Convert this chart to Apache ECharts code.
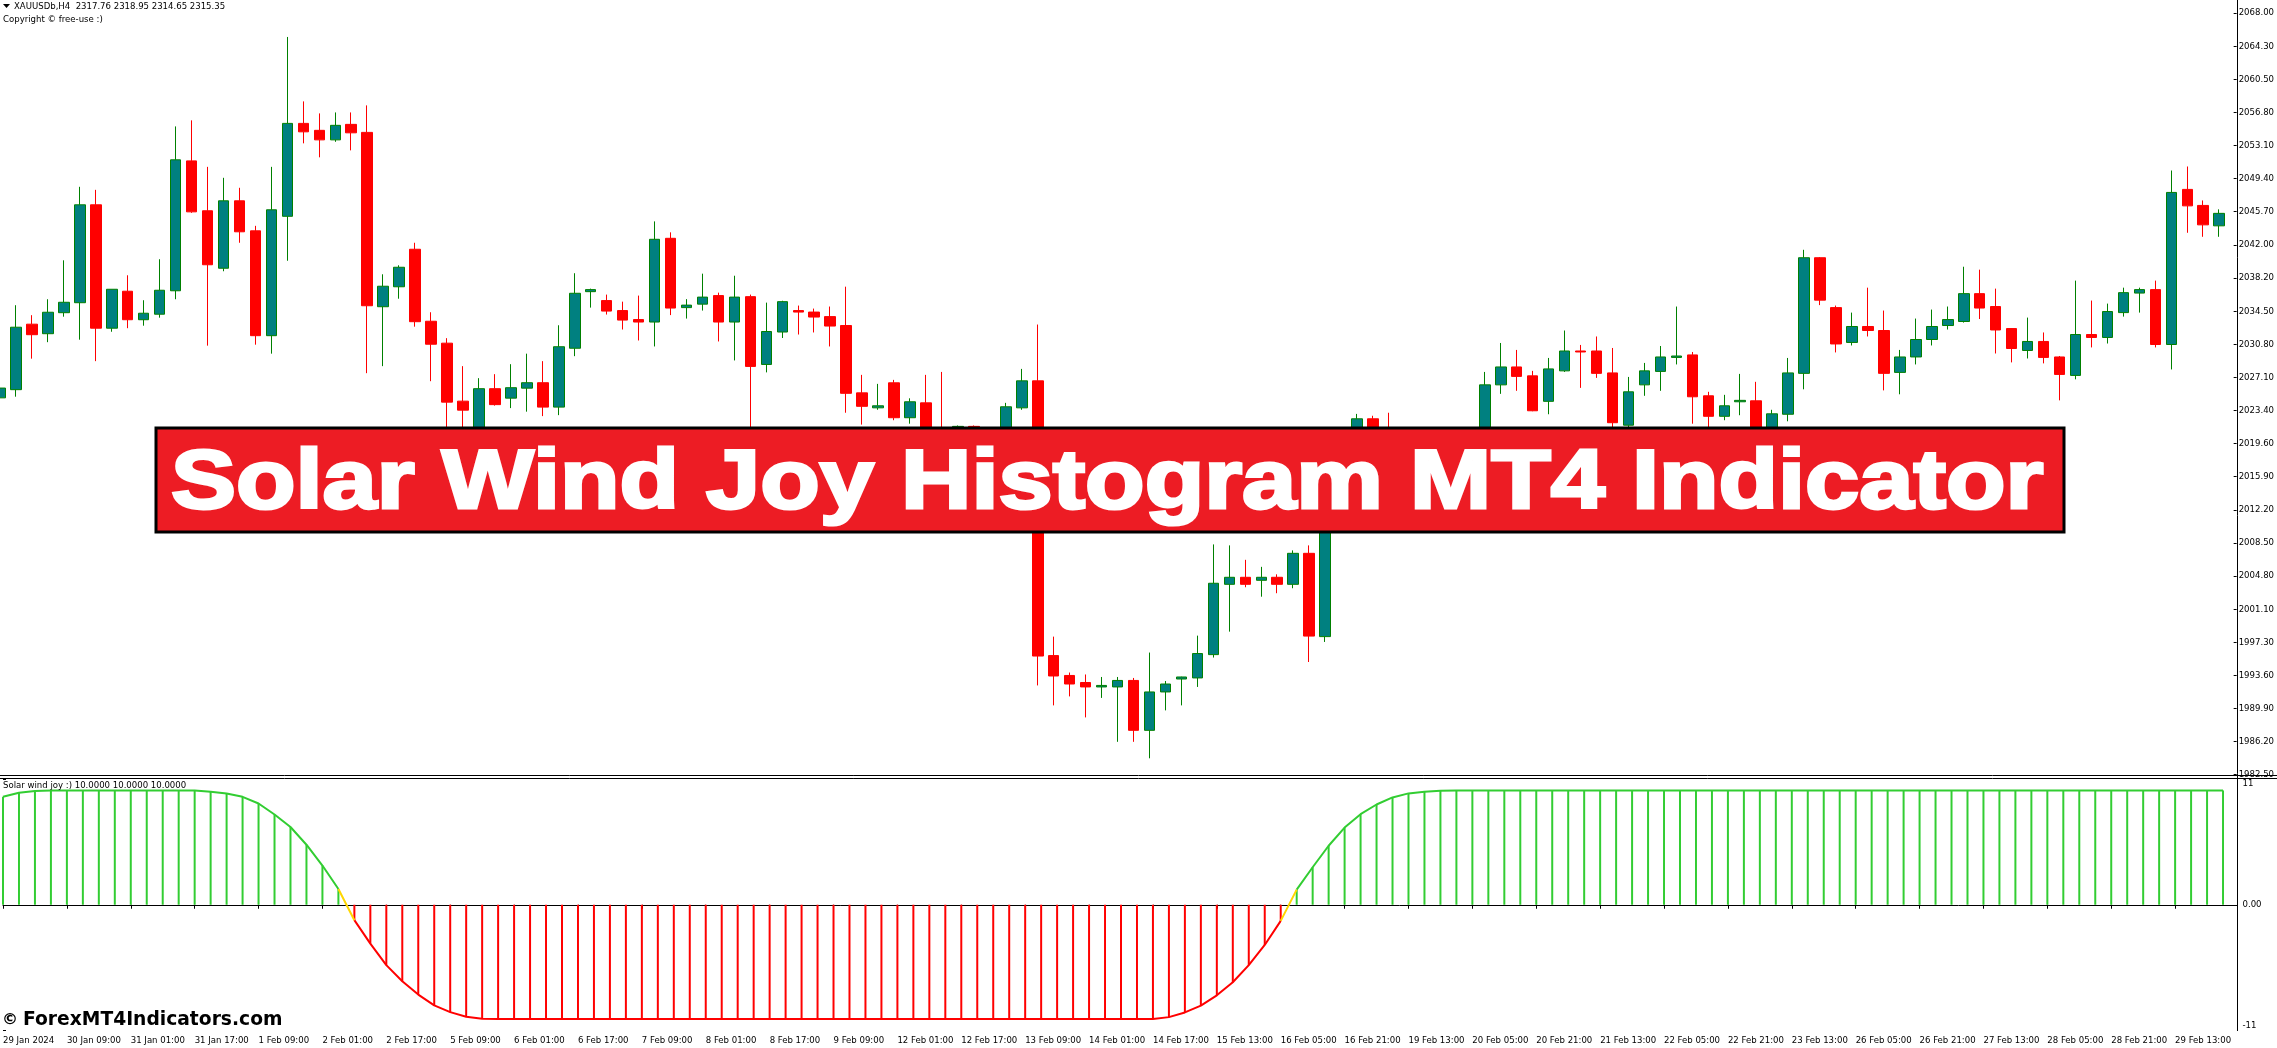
<!DOCTYPE html>
<html>
<head>
<meta charset="utf-8">
<script src="https://cdn.jsdelivr.net/npm/echarts@6/dist/echarts.min.js"></script>
<style>html,body{margin:0;padding:0;background:#fff;overflow:hidden}#c{width:2277px;height:1048px}</style>
</head>
<body>
<div id="c"></div>
<script>
// ---- data ----
const timeLabels = ['29 Jan 2024','30 Jan 09:00','31 Jan 01:00','31 Jan 17:00','1 Feb 09:00','2 Feb 01:00','2 Feb 17:00','5 Feb 09:00','6 Feb 01:00','6 Feb 17:00','7 Feb 09:00','8 Feb 01:00','8 Feb 17:00','9 Feb 09:00','12 Feb 01:00','12 Feb 17:00','13 Feb 09:00','14 Feb 01:00','14 Feb 17:00','15 Feb 13:00','16 Feb 05:00','16 Feb 21:00','19 Feb 13:00','20 Feb 05:00','20 Feb 21:00','21 Feb 13:00','22 Feb 05:00','22 Feb 21:00','23 Feb 13:00','26 Feb 05:00','26 Feb 21:00','27 Feb 13:00','28 Feb 05:00','28 Feb 21:00','29 Feb 13:00'];

const priceLabels = ['1982.50','1986.20','1989.90','1993.60','1997.30','2001.10','2004.80','2008.50','2012.20','2015.90','2019.60','2023.40','2027.10','2030.80','2034.50','2038.20','2042.00','2045.70','2049.40','2053.10','2056.80','2060.50','2064.30','2068.00'];

const indicatorLabels = ['-11','0.00','11'];

const opens = [
 2024.8, 2025.72, 2033.07, 2032.0, 2034.36, 2035.48, 2046.47, 2032.62, 2036.77, 2033.57,
 2034.19, 2036.82, 2051.4, 2045.8, 2039.35, 2046.92, 2043.55, 2031.78, 2045.18, 2055.61,
 2054.83, 2053.76, 2055.5, 2054.6, 2035.03, 2037.27, 2041.48, 2033.4, 2030.94, 2024.43,
 2020.8, 2025.83, 2024.77, 2025.89, 2026.5, 2023.76, 2030.37, 2036.72, 2035.72, 2034.6,
 2033.59, 2033.31, 2042.71, 2034.93, 2035.32, 2036.28, 2033.31, 2036.16, 2028.55, 2032.19,
 2034.6, 2034.43, 2033.92, 2032.92, 2025.36, 2023.68, 2026.49, 2022.57, 2024.24, 2021.0,
 2021.4, 2021.6, 2021.0, 2020.5, 2023.68, 2026.71, 1995.87, 1993.64, 1992.85, 1992.35,
 1992.35, 1993.08, 1987.48, 1991.79, 1993.24, 1993.36, 1995.98, 2003.87, 2004.66, 2004.32,
 2004.66, 2003.87, 2007.35, 1998.0, 2019.5, 2017.8, 2022.45, 2020.0, 2018.5, 2019.8,
 2018.9, 2020.3, 2020.9, 2020.1, 2026.26, 2028.27, 2027.27, 2024.41, 2027.83, 2030.06,
 2030.06, 2027.6, 2021.73, 2026.26, 2027.77, 2029.34, 2029.62, 2025.03, 2022.73, 2024.36,
 2024.47, 2021.0, 2022.96, 2027.55, 2040.53, 2034.93, 2031.02, 2032.81, 2032.36, 2027.66,
 2029.39, 2031.35, 2032.92, 2033.37, 2036.5, 2035.05, 2032.58, 2030.12, 2031.13, 2029.39,
 2027.32, 2031.91, 2031.58, 2034.37, 2036.56, 2036.95, 2030.79, 2048.2, 2046.4, 2044.11
];
const closes = [
 2025.9, 2032.73, 2031.89, 2034.41, 2035.53, 2046.47, 2032.62, 2036.99, 2033.57, 2034.30,
 2036.88, 2051.52, 2045.68, 2039.74, 2046.92, 2043.44, 2031.78, 2045.91, 2055.61, 2054.66,
 2053.76, 2055.39, 2054.55, 2035.14, 2037.33, 2039.46, 2033.35, 2030.82, 2024.32, 2023.42,
 2025.83, 2024.04, 2025.94, 2026.5, 2023.76, 2030.54, 2036.54, 2036.95, 2034.54, 2033.53,
 2033.31, 2042.6, 2034.88, 2035.21, 2036.11, 2033.31, 2036.11, 2028.33, 2032.25, 2035.6,
 2034.43, 2033.87, 2032.86, 2025.31, 2023.85, 2023.91, 2022.57, 2024.36, 2021.0, 2019.8,
 2021.6, 2021.4, 2020.2, 2023.8, 2026.71, 1995.82, 1993.58, 1992.68, 1992.35, 1992.52,
 1993.08, 1987.48, 1991.79, 1992.68, 1993.47, 1996.1, 2003.99, 2004.66, 2003.87, 2004.66,
 2003.87, 2007.35, 1998.06, 2019.5, 2017.8, 2022.45, 2020.0, 2018.5, 2019.8, 2018.9,
 2020.3, 2020.9, 2020.1, 2026.26, 2028.27, 2027.21, 2023.35, 2028.05, 2030.06, 2029.95,
 2027.55, 2022.01, 2025.48, 2027.83, 2029.39, 2029.5, 2024.92, 2022.73, 2023.91, 2024.52,
 2021.0, 2023.01, 2027.6, 2040.53, 2035.77, 2030.85, 2032.81, 2032.36, 2027.55, 2029.39,
 2031.35, 2032.81, 2033.59, 2036.5, 2034.88, 2032.42, 2030.34, 2031.13, 2029.34, 2027.43,
 2031.91, 2031.58, 2034.49, 2036.61, 2036.95, 2030.79, 2047.86, 2046.35, 2044.22, 2045.51
];
const lows = [
 2024.3, 2024.93, 2029.2, 2031.05, 2033.91, 2031.33, 2028.92, 2032.22, 2032.62, 2032.9,
 2033.8, 2035.87, 2045.57, 2030.66, 2039.01, 2042.21, 2030.77, 2029.76, 2040.19, 2053.37,
 2051.8, 2053.54, 2052.58, 2027.57, 2028.36, 2035.93, 2032.79, 2026.67, 2020.5, 2020.0,
 2019.9, 2023.93, 2023.65, 2023.25, 2022.75, 2022.86, 2029.48, 2034.93, 2034.15, 2032.47,
 2031.24, 2030.57, 2034.09, 2033.7, 2034.6, 2031.13, 2029.0, 2019.5, 2027.66, 2031.52,
 2031.91, 2032.14, 2030.57, 2023.13, 2021.8, 2023.46, 2022.29, 2021.9, 2020.2, 2019.0,
 2019.5, 2020.0, 2019.0, 2019.8, 2023.46, 1992.52, 1990.28, 1991.29, 1988.93, 1991.12,
 1986.19, 1986.19, 1984.34, 1989.72, 1990.28, 1992.35, 1995.65, 1998.56, 2003.54, 2002.48,
 2002.87, 2003.43, 1995.15, 1997.4, 2016.5, 2017.2, 2019.2, 2017.6, 2017.9, 2018.0,
 2018.4, 2019.6, 2019.4, 2019.8, 2025.25, 2025.59, 2023.3, 2022.96, 2027.71, 2025.92,
 2027.04, 2020.8, 2020.9, 2025.03, 2025.59, 2028.55, 2021.9, 2021.0, 2022.29, 2022.85,
 2020.2, 2020.4, 2022.17, 2025.76, 2035.21, 2029.9, 2030.68, 2031.69, 2025.64, 2025.2,
 2028.55, 2030.68, 2032.47, 2033.25, 2033.65, 2029.78, 2028.78, 2029.22, 2028.67, 2024.52,
 2026.88, 2030.46, 2030.9, 2033.92, 2034.37, 2030.46, 2027.99, 2043.33, 2042.88, 2042.88
];
const highs = [
 2026.5, 2035.2, 2034.08, 2035.87, 2040.24, 2048.49, 2048.15, 2036.99, 2038.56, 2035.76,
 2040.36, 2055.27, 2055.95, 2050.73, 2049.5, 2048.38, 2044.11, 2050.73, 2065.31, 2058.08,
 2056.73, 2056.84, 2056.84, 2057.63, 2038.67, 2039.68, 2042.21, 2034.41, 2031.5, 2028.36,
 2027.01, 2027.46, 2028.58, 2029.76, 2028.92, 2032.95, 2038.79, 2037.06, 2036.39, 2035.6,
 2036.28, 2044.61, 2043.38, 2035.88, 2038.74, 2036.61, 2038.51, 2036.39, 2035.49, 2035.7,
 2035.16, 2034.82, 2035.05, 2037.28, 2027.38, 2026.37, 2026.82, 2024.75, 2027.38, 2027.71,
 2021.7, 2021.7, 2021.2, 2024.24, 2028.05, 2033.03, 1998.0, 1993.97, 1993.75, 1993.47,
 1993.47, 1993.36, 1996.21, 1993.02, 1993.5, 1998.11, 2008.35, 2008.24, 2006.62, 2005.83,
 2004.99, 2007.68, 2008.24, 2020.3, 2020.8, 2023.0, 2022.79, 2023.13, 2020.6, 2020.4,
 2021.0, 2021.2, 2021.2, 2027.71, 2030.96, 2030.18, 2027.83, 2029.28, 2032.36, 2030.74,
 2031.69, 2030.4, 2027.15, 2028.72, 2030.62, 2035.05, 2029.95, 2025.48, 2025.14, 2027.49,
 2026.6, 2023.46, 2029.28, 2041.42, 2040.6, 2035.16, 2034.37, 2037.17, 2034.6, 2030.18,
 2033.7, 2034.71, 2035.05, 2039.52, 2039.19, 2037.06, 2032.6, 2033.81, 2032.14, 2029.5,
 2037.96, 2035.72, 2035.38, 2037.17, 2037.17, 2037.96, 2050.32, 2050.77, 2046.96, 2045.96
];
const joy = [
 9.44, 9.8, 9.94, 10, 10, 10, 10, 10, 10, 10,
 10, 10, 10, 9.88, 9.74, 9.44, 8.86, 7.89, 6.8, 5.25,
 3.43, 1.38, -1.35, -3.4, -5.28, -6.69, -7.86, -8.8, -9.39, -9.8,
 -9.97, -10, -10, -10, -10, -10, -10, -10, -10, -10,
 -10, -10, -10, -10, -10, -10, -10, -10, -10, -10,
 -10, -10, -10, -10, -10, -10, -10, -10, -10, -10,
 -10, -10, -10, -10, -10, -10, -10, -10, -10, -10,
 -10, -10, -10, -9.83, -9.42, -8.83, -7.92, -6.78, -5.28, -3.52,
 -1.41, 1.32, 3.28, 5.16, 6.75, 7.92, 8.77, 9.39, 9.74, 9.88,
 9.97, 10, 10, 10, 10, 10, 10, 10, 10, 10,
 10, 10, 10, 10, 10, 10, 10, 10, 10, 10,
 10, 10, 10, 10, 10, 10, 10, 10, 10, 10,
 10, 10, 10, 10, 10, 10, 10, 10, 10, 10,
 10, 10, 10, 10, 10, 10, 10, 10, 10, 10
];

// ---- build ----
const FONT = "'DejaVu Sans Condensed','Liberation Sans',Tahoma,sans-serif";
const LBL = 9.5;
const X_MAX = 139.906;

const candleData = opens.map((o, i) => [i, o, closes[i], lows[i], highs[i]]);
const histData = joy.map((v, i) => [i, v]);
const greenLine = joy.map((v, i) => [i, v > 0 ? v : '-']);
const redLine = joy.map((v, i) => [i, v < 0 ? v : '-']);
const yellowLine = joy.map((v, i) => {
  const p = joy[i - 1], n = joy[i + 1];
  const cross = (n !== undefined && Math.sign(n) !== Math.sign(v)) || (p !== undefined && Math.sign(p) !== Math.sign(v));
  return [i, cross ? v : '-'];
});

const chart = echarts.init(document.getElementById('c'), null, { renderer: 'canvas' });

const option = {
  animation: false,
  backgroundColor: '#ffffff',
  grid: [
    { left: -1, right: 39.5, top: 13, bottom: 273.3 },
    { left: -1, right: 39.5, top: 779, bottom: 17.5 }
  ],
  xAxis: [
    { gridIndex: 0, type: 'value', min: 0, max: X_MAX, show: false },
    {
      gridIndex: 1, type: 'value', min: 0, max: X_MAX, interval: 4,
      axisLine: { show: true, lineStyle: { color: '#000', width: 1 } },
      axisTick: { show: true, length: 4, lineStyle: { color: '#000', width: 1 } },
      splitLine: { show: false },
      axisLabel: {
        show: true, align: 'left', margin: 5, color: '#000', fontSize: LBL, fontFamily: FONT,
        showMaxLabel: false, showMinLabel: true, hideOverlap: false,
        formatter: v => {
          const k = Math.round(v / 4);
          return Math.abs(v / 4 - k) < 1e-6 && timeLabels[k] ? timeLabels[k] : '';
        }
      }
    }
  ],
  yAxis: [
    { gridIndex: 0, type: 'value', min: 1982.5, max: 2068, position: 'left', show: false },
    {
      gridIndex: 0, type: 'value', min: 0, max: priceLabels.length - 1, interval: 1, position: 'right',
      axisLine: { show: false },
      axisTick: { show: true, length: 3, lineStyle: { color: '#000' } },
      splitLine: { show: false },
      axisLabel: {
        margin: 5, color: '#000', fontSize: LBL, fontFamily: FONT, align: 'left',
        formatter: v => priceLabels[Math.round(v)] || ''
      }
    },
    {
      gridIndex: 1, type: 'value', min: -11, max: 11, interval: 11, position: 'right',
      axisLine: { show: false },
      axisTick: { show: true, length: 3, lineStyle: { color: '#000' } },
      splitLine: { show: false },
      axisLabel: {
        margin: 5, color: '#000', fontSize: LBL, fontFamily: FONT, align: 'left',
        formatter: v => {
          const k = Math.round(v / 11) + 1;
          const s = indicatorLabels[k];
          if (k === 2) return '{t|' + s + '}';
          if (k === 0) return '{b|' + s + '}';
          return s;
        },
        rich: {
          t: { fontSize: LBL, fontFamily: FONT, color: '#000', padding: [10, 0, 0, 0] },
          b: { fontSize: LBL, fontFamily: FONT, color: '#000', padding: [0, 0, 10, 0] }
        }
      }
    }
  ],
  series: [
    {
      type: 'candlestick', xAxisIndex: 0, yAxisIndex: 0,
      data: candleData, barWidth: 11,
      itemStyle: { color: '#008080', color0: '#FF0000', borderColor: '#008000', borderColor0: '#FF0000', borderWidth: 1 }
    },
    {
      type: 'bar', xAxisIndex: 1, yAxisIndex: 2, data: histData, barWidth: 2,
      itemStyle: { color: p => (p.value[1] >= 0 ? '#32CD32' : '#FF0000') }
    },
    {
      type: 'line', xAxisIndex: 1, yAxisIndex: 2, data: greenLine, symbol: 'none', connectNulls: false,
      lineStyle: { color: '#32CD32', width: 2 }, z: 3
    },
    {
      type: 'line', xAxisIndex: 1, yAxisIndex: 2, data: redLine, symbol: 'none', connectNulls: false,
      lineStyle: { color: '#FF0000', width: 2 }, z: 3
    },
    {
      type: 'line', xAxisIndex: 1, yAxisIndex: 2, data: yellowLine, symbol: 'none', connectNulls: false,
      lineStyle: { color: '#FFD700', width: 2 }, z: 3
    }
  ],
  graphic: [
    { type: 'line', z: 50, shape: { x1: 0, y1: 775.5, x2: 2277, y2: 775.5 }, style: { stroke: '#000', lineWidth: 1 } },
    { type: 'line', z: 50, shape: { x1: 0, y1: 778.5, x2: 2277, y2: 778.5 }, style: { stroke: '#000', lineWidth: 1 } },
    { type: 'line', z: 50, shape: { x1: 2237.5, y1: 0, x2: 2237.5, y2: 1031 }, style: { stroke: '#000', lineWidth: 1 } },
    { type: 'polygon', z: 50, shape: { points: [[3, 4], [10, 4], [6.5, 8]] }, style: { fill: '#000' } },
    { type: 'text', z: 50, x: 14, y: 6.5, style: { text: 'XAUUSDb,H4  2317.76 2318.95 2314.65 2315.35', fill: '#000', font: LBL + 'px ' + FONT, verticalAlign: 'middle', textVerticalAlign: 'middle' } },
    { type: 'text', z: 50, x: 3, y: 20, style: { text: 'Copyright © free-use :)', fill: '#000', font: LBL + 'px ' + FONT, verticalAlign: 'middle', textVerticalAlign: 'middle' } },
    { type: 'text', z: 50, x: 3, y: 786, style: { text: 'Solar wind joy :) 10.0000 10.0000 10.0000', fill: '#000', font: LBL + 'px ' + FONT, verticalAlign: 'middle', textVerticalAlign: 'middle' } },
    { type: 'text', z: 60, x: 2, y: 1020, style: { text: '©', fill: '#000', font: 'bold 16px "DejaVu Sans", sans-serif', verticalAlign: 'middle', textVerticalAlign: 'middle' } },
    { type: 'text', z: 60, x: 23, y: 1020, style: { text: 'ForexMT4Indicators.com', fill: '#000', font: 'bold 18.7px "DejaVu Sans", sans-serif', verticalAlign: 'middle', textVerticalAlign: 'middle' } },
    { type: 'rect', z: 100, shape: { x: 156, y: 428, width: 1908, height: 104 }, style: { fill: '#ED1C24', stroke: '#000', lineWidth: 3 } },
    { type: 'text', z: 101, x: 171, y: 485, scaleX: 1.16, style: { text: 'Solar Wind Joy Histogram MT4 Indicator', fill: '#fff', stroke: '#fff', lineWidth: 3, font: 'bold 84px "Liberation Sans", Arial, sans-serif', align: 'left', textAlign: 'left', verticalAlign: 'middle', textVerticalAlign: 'middle' } }
  ]
};
chart.setOption(option);
</script>
</body>
</html>
